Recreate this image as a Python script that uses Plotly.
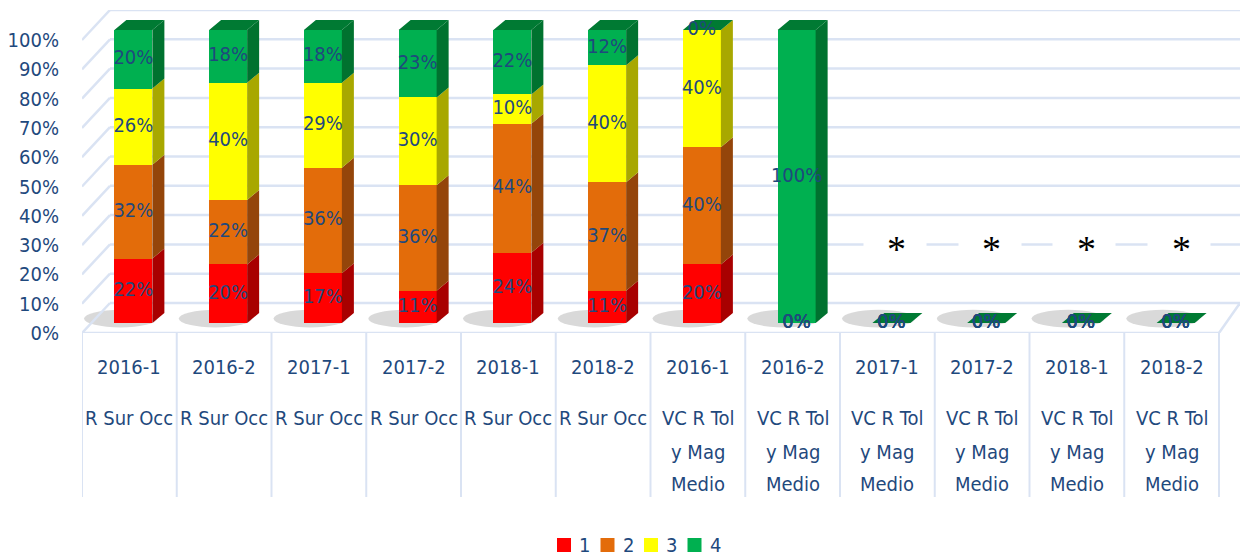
import plotly.graph_objects as go

# ---------------- data ----------------
periods = ["2016-1", "2016-2", "2017-1", "2017-2", "2018-1", "2018-2"] * 2
groups = [["R Sur Occ"]] * 6 + [["VC R Tol", "y Mag", "Medio"]] * 6
series_names = ["1", "2", "3", "4"]
s1 = [22, 20, 17, 11, 24, 11, 20, 0, 0, 0, 0, 0]
s2 = [32, 22, 36, 36, 44, 37, 40, 0, 0, 0, 0, 0]
s3 = [26, 40, 29, 30, 10, 40, 40, 0, 0, 0, 0, 0]
s4 = [20, 18, 18, 23, 22, 12, 0, 100, 0, 0, 0, 0]
no_data = [False] * 8 + [True] * 4
y_ticks = list(range(0, 101, 10))
y_ticktext = [f"{v}%" for v in y_ticks]

series = [s1, s2, s3, s4]
front_colors = ["#FF0000", "#E36C0A", "#FFFF00", "#00B050"]
side_colors = ["#A80000", "#94450A", "#A8A800", "#00722F"]
top_color = "#007A33"
txt_color = "#1F497D"
FONT = "Liberation Sans Narrow, DejaVu Sans Condensed, Liberation Sans, sans-serif"

# ---------------- geometry (page pixels -> units) ----------------
OFS = 8                         # default body margin of the html page
W, H = 1248, 556
L, R, T, B = 82 - OFS, 1240 - OFS, 10 - OFS, 333 - OFS
slot = 94.75
pxy = 2.93                      # px per percent
x_range = [-0.5, -0.5 + (R - L) / slot]
y_lab_range = [0, (B - T) / pxy]
y_bar_range = [-10 / pxy, (B - T - 10) / pxy]
dx = 12 / slot                  # 3D depth in x
dy = 10 / pxy                   # 3D depth in y
back_shift = 20 / pxy           # back wall grid offset relative to bar zero
bar_w = 38 / slot
off = 4 / slot

n = len(periods)
xs = [i + off for i in range(n)]


def py(p):
    """page pixel y -> paper fraction"""
    return (B - (p - OFS)) / (B - T)


def pxp(p):
    """page pixel x -> paper fraction"""
    return ((p - OFS) - L) / (R - L)


fig = go.Figure()

# invisible trace so that the tick-label axis exists
fig.add_trace(go.Scatter(x=[x_range[0]], y=[0], mode="markers", marker=dict(opacity=0),
                         yaxis="y", showlegend=False, hoverinfo="skip"))

# front faces (stacked bars)
for name, vals, col in zip(series_names, series, front_colors):
    fig.add_trace(go.Bar(
        x=xs, y=vals, name=name, width=bar_w, marker=dict(color=col, line=dict(width=0)),
        yaxis="y2", hoverinfo="skip", showlegend=False,
    ))

# side faces and top faces, computed from the data
cum = [0] * n
for vals, col in zip(series, side_colors):
    px_, py_ = [], []
    for i in range(n):
        b, t = cum[i], cum[i] + vals[i]
        if vals[i] > 0:
            xr = xs[i] + bar_w / 2
            px_ += [xr, xr + dx, xr + dx, xr, xr, None]
            py_ += [b, b + dy, t + dy, t, b, None]
        cum[i] = t
    fig.add_trace(go.Scatter(x=px_, y=py_, fill="toself", fillcolor=col, mode="none",
                             yaxis="y2", showlegend=False, hoverinfo="skip"))
px_, py_ = [], []
for i in range(n):
    xl, xr, t = xs[i] - bar_w / 2, xs[i] + bar_w / 2, cum[i]
    px_ += [xl, xr, xr + dx, xl + dx, xl, None]
    py_ += [t, t, t + dy, t + dy, t, None]
fig.add_trace(go.Scatter(x=px_, y=py_, fill="toself", fillcolor=top_color, mode="none",
                         yaxis="y2", showlegend=False, hoverinfo="skip"))

# data labels
cum = [0] * n
for vals in series:
    mids = [cum[i] + vals[i] / 2 for i in range(n)]
    fig.add_trace(go.Scatter(
        x=xs, y=mids, mode="text", text=[f"{v}%" for v in vals],
        textfont=dict(family=FONT, size=20, color=txt_color),
        yaxis="y2", showlegend=False, hoverinfo="skip", cliponaxis=False,
    ))
    cum = [cum[i] + vals[i] for i in range(n)]

shapes = []
grid_col = "#DAE3F3"
# floor shadows behind each bar
for i in range(n):
    shapes.append(dict(type="circle", xref="x", yref="y2", x0=xs[i] - bar_w / 2 - 0.32,
                       x1=xs[i] + bar_w / 2 + 0.05, y0=-1.5, y1=4.5,
                       fillcolor="rgba(120,120,120,0.28)", line=dict(width=0), layer="below"))
# back wall gridlines + left wall diagonals
for v in y_ticks:
    shapes.append(dict(type="line", xref="x", yref="y2", x0=-0.5 + 28 / slot, x1=x_range[1],
                       y0=v + back_shift, y1=v + back_shift, line=dict(color=grid_col, width=2.5), layer="below"))
    shapes.append(dict(type="line", xref="x", yref="y2", x0=-0.5, x1=-0.5 + 28 / slot,
                       y0=v - 10 / pxy, y1=v + back_shift, line=dict(color=grid_col, width=2.5), layer="below"))
# floor front edge
shapes.append(dict(type="line", xref="x", yref="y2", x0=-0.5, x1=n - 0.5,
                   y0=-10 / pxy, y1=-10 / pxy, line=dict(color=grid_col, width=2.5), layer="below"))
shapes.append(dict(type="line", xref="x", yref="y2", x0=n - 0.5, x1=x_range[1],
                   y0=-10 / pxy, y1=back_shift, line=dict(color=grid_col, width=2.5), layer="below"))
# category separators
for k in range(n + 1):
    shapes.append(dict(type="line", xref="x", yref="paper", x0=k - 0.5, x1=k - 0.5,
                       y0=0, y1=py(497), line=dict(color=grid_col, width=2)))

annotations = []
for i in range(n):
    annotations.append(dict(x=i, y=py(367), xref="x", yref="paper", text=periods[i], showarrow=False,
                            yanchor="middle", font=dict(family=FONT, size=20, color=txt_color)))
    ys = [418] if len(groups[i]) == 1 else [418, 452, 484]
    for line, yy in zip(groups[i], ys):
        annotations.append(dict(x=i, y=py(yy), xref="x", yref="paper", text=line, showarrow=False,
                                yanchor="middle", font=dict(family=FONT, size=20, color=txt_color)))
    if no_data[i]:
        annotations.append(dict(x=i + 0.08, y=27, xref="x", yref="y2", text=" ", showarrow=False,
                                width=60, height=40, bgcolor="white"))
        annotations.append(dict(x=i + 0.1, y=27, xref="x", yref="y2", text="*", showarrow=False,
                                yshift=-5, font=dict(family="Liberation Serif, serif", size=38, color="black")))

# legend (drawn manually to match the compact spacing)
leg_x0, leg_step, leg_y, sq = 557, 43.5, 545, 14
for k, (name, col) in enumerate(zip(series_names, front_colors)):
    x0 = leg_x0 + k * leg_step
    shapes.append(dict(type="rect", xref="paper", yref="paper",
                       x0=pxp(x0), x1=pxp(x0 + sq), y0=py(leg_y + sq / 2), y1=py(leg_y - sq / 2),
                       fillcolor=col, line=dict(width=0)))
    annotations.append(dict(x=pxp(x0 + sq + 6), y=py(leg_y), xref="paper", yref="paper",
                            xanchor="left", yanchor="middle", text=name, showarrow=False,
                            font=dict(family=FONT, size=20, color=txt_color)))

fig.update_layout(
    width=W, height=H,
    margin=dict(l=L, r=W - R, t=T, b=H - B, autoexpand=False),
    paper_bgcolor="white", plot_bgcolor="rgba(0,0,0,0)",
    barmode="stack", bargap=0,
    xaxis=dict(range=x_range, visible=False, fixedrange=True),
    yaxis=dict(range=y_lab_range, tickvals=y_ticks, ticktext=y_ticktext, showgrid=False,
               zeroline=False, showline=False, ticks="", ticklabelstandoff=22,
               tickfont=dict(family=FONT, size=20, color=txt_color)),
    yaxis2=dict(range=y_bar_range, overlaying="y", visible=False),
    shapes=shapes, annotations=annotations,
    showlegend=False,
)

fig.write_html("out.html")
